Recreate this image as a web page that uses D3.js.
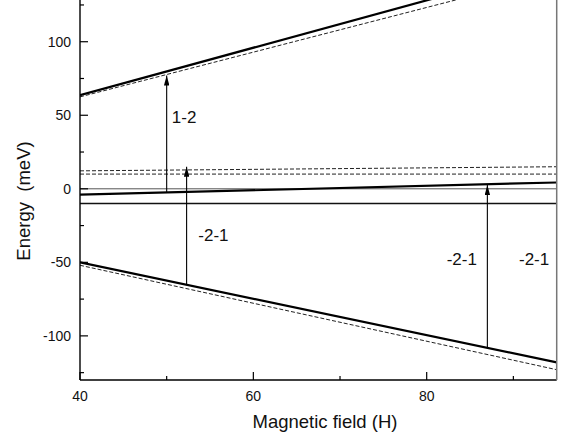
<!DOCTYPE html>
<html>
<head>
<meta charset="utf-8">
<script src="https://cdn.jsdelivr.net/npm/d3@7"></script>
<style>
  body { margin: 0; background: #fff; }
  svg { display: block; font-family: "Liberation Sans", Arial, sans-serif; }
</style>
</head>
<body>
<svg id="chart" width="567" height="439"></svg>
<script>
// field values at the two ends of each level line
var fieldH = [40, 95];
var upperSolid = [63.7, 152.3];
var upperDashed = [62.5, 146.1];
var midDashedHigh = [12.2, 15];
var midDashedLow = [10, 10];
var zeroLine = [0, 0];
var slopeSolid = [-4, 4.3];
var flatSolid = [-10, -10];
var lowerSolid = [-50, -118];
var lowerDashed = [-52, -123];

// transitions (arrows)
var arrowH = [50, 52.3, 87];
var arrowFrom = [-2.5, -65, -108];
var arrowTo = [77, 15, 2.5];

// labels
var labelText = ['1-2', '-2-1', '-2-1', '-2-1'];
var labelH = [50.6, 53.65, 82.3, 90.65];
var labelE = [44.7, -35.6, -51.6, -51.6];

var xTicks = [40, 60, 80];
var xMinor = [50, 70, 90];
var yTicks = [-100, -50, 0, 50, 100];
var yMinor = [-125, -75, -25, 25, 75, 125];

var svg = d3.select('#chart');
var plotLeft = 80, plotRight = 556.7, plotBottom = 380, plotTop = -2.4;

var x = d3.scaleLinear().domain([40, 95]).range([plotLeft, plotRight]);
var y = d3.scaleLinear().domain([-130, 130]).range([plotBottom, plotTop]);

var defs = svg.append('defs');
defs.append('clipPath').attr('id', 'clip')
  .append('rect')
  .attr('x', plotLeft).attr('y', plotTop)
  .attr('width', plotRight - plotLeft).attr('height', plotBottom - plotTop);

defs.append('marker')
  .attr('id', 'head')
  .attr('viewBox', '0 0 10 6')
  .attr('preserveAspectRatio', 'none')
  .attr('refX', 10).attr('refY', 3)
  .attr('markerWidth', 10).attr('markerHeight', 5.5)
  .attr('markerUnits', 'userSpaceOnUse')
  .attr('orient', 'auto')
  .append('path')
  .attr('d', 'M0,0 L10,3 L0,6 Z')
  .attr('fill', '#000');

var plot = svg.append('g').attr('clip-path', 'url(#clip)');

var line = d3.line()
  .x(function(d) { return x(d[0]); })
  .y(function(d) { return y(d[1]); });

var levels = [
  { e: zeroLine, w: 1, c: '#555', dash: null },
  { e: flatSolid, w: 1.7, c: '#111', dash: null },
  { e: slopeSolid, w: 2.2, c: '#000', dash: null },
  { e: midDashedHigh, w: 1, c: '#222', dash: '4,2' },
  { e: midDashedLow, w: 1, c: '#222', dash: '4,2' },
  { e: upperDashed, w: 1, c: '#222', dash: '4,2' },
  { e: upperSolid, w: 2.2, c: '#000', dash: null },
  { e: lowerDashed, w: 1, c: '#222', dash: '4,2' },
  { e: lowerSolid, w: 2.2, c: '#000', dash: null }
];

levels.forEach(function(l) {
  plot.append('path')
    .datum(fieldH.map(function(h, i) { return [h, l.e[i]]; }))
    .attr('d', line)
    .attr('fill', 'none')
    .attr('stroke', l.c)
    .attr('stroke-width', l.w)
    .attr('stroke-dasharray', l.dash);
});

// arrows
arrowH.forEach(function(h, i) {
  plot.append('line')
    .attr('x1', x(h)).attr('x2', x(h))
    .attr('y1', y(arrowFrom[i])).attr('y2', y(arrowTo[i]))
    .attr('stroke', '#000')
    .attr('stroke-width', 1.1)
    .attr('marker-end', 'url(#head)');
});

// labels
labelText.forEach(function(t, i) {
  svg.append('text')
    .attr('x', x(labelH[i]))
    .attr('y', y(labelE[i]))
    .attr('font-size', 17)
    .attr('fill', '#111')
    .text(t);
});

// axes: ticks drawn by hand so they point into the plot
var axes = svg.append('g').attr('stroke', '#000');
axes.append('line')
  .attr('x1', plotLeft).attr('x2', plotRight)
  .attr('y1', plotBottom).attr('y2', plotBottom)
  .attr('stroke-width', 1.4);
axes.append('line')
  .attr('x1', plotLeft).attr('x2', plotLeft)
  .attr('y1', plotTop).attr('y2', plotBottom)
  .attr('stroke-width', 1.4);

axes.selectAll('.xt').data(xTicks.concat(xMinor)).enter().append('line')
  .attr('x1', function(d) { return x(d); }).attr('x2', function(d) { return x(d); })
  .attr('y1', plotBottom)
  .attr('y2', function(d) { return plotBottom - (xTicks.indexOf(d) >= 0 ? 8 : 4); })
  .attr('stroke-width', 1.2);
axes.selectAll('.yt').data(yTicks.concat(yMinor)).enter().append('line')
  .attr('y1', function(d) { return y(d); }).attr('y2', function(d) { return y(d); })
  .attr('x1', plotLeft)
  .attr('x2', function(d) { return plotLeft + (yTicks.indexOf(d) >= 0 ? 8 : 4); })
  .attr('stroke-width', 1.2);

svg.selectAll('.xl').data(xTicks).enter().append('text')
  .attr('x', function(d) { return x(d); })
  .attr('y', plotBottom + 21)
  .attr('text-anchor', 'middle')
  .attr('font-size', 14)
  .attr('fill', '#111')
  .text(function(d) { return String(d); });
svg.selectAll('.yl').data(yTicks).enter().append('text')
  .attr('x', plotLeft - 9)
  .attr('y', function(d) { return y(d); })
  .attr('dy', '0.35em')
  .attr('text-anchor', 'end')
  .attr('font-size', 14)
  .attr('fill', '#111')
  .text(function(d) { return String(d); });

// right border
svg.append('line')
  .attr('x1', plotRight).attr('x2', plotRight)
  .attr('y1', plotTop).attr('y2', plotBottom)
  .attr('stroke', '#777').attr('stroke-width', 1.5);

// axis titles
svg.append('text')
  .attr('x', 325)
  .attr('y', 428)
  .attr('text-anchor', 'middle')
  .attr('font-size', 18.5)
  .attr('fill', '#111')
  .text('Magnetic field (H)');

svg.append('text')
  .attr('transform', 'translate(30,201) rotate(-90)')
  .attr('text-anchor', 'middle')
  .attr('font-size', 18.5)
  .attr('fill', '#111')
  .style('white-space', 'pre')
  .text('Energy  (meV)');
</script>
</body>
</html>
